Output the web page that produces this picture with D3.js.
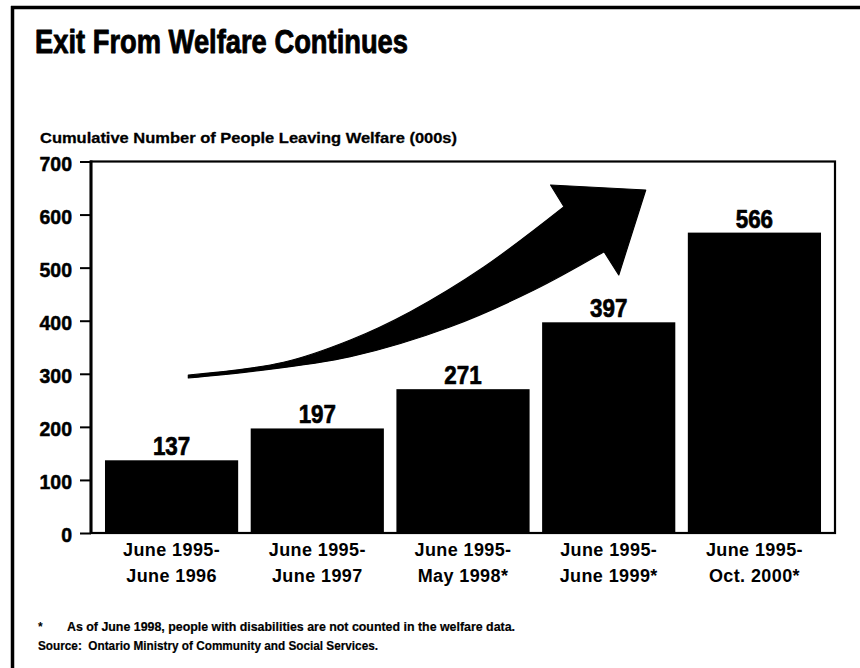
<!DOCTYPE html>
<html>
<head>
<meta charset="utf-8">
<script src="https://cdn.jsdelivr.net/npm/d3@7"></script>
<style>
  html, body { margin: 0; padding: 0; background: #fff; }
  svg { display: block; }
  .bold { font-family: "Liberation Sans", Arial, Helvetica, sans-serif; font-weight: bold; }
</style>
</head>
<body>
<svg id="chart" width="860" height="668"></svg>
<script>
// Chart data
const categories = ["June 1995-\nJune 1996", "June 1995-\nJune 1997", "June 1995-\nMay 1998*", "June 1995-\nJune 1999*", "June 1995-\nOct. 2000*"];
const values = [137, 197, 271, 397, 566];
const yTicks = [0, 100, 200, 300, 400, 500, 600, 700];

// Growth arrow outline, in (category index, value) units
const arrowUpper = [[0.115, 297.7], [0.768, 321.7], [1.227, 363.7], [1.639, 417.0], [2.143, 501.2], [2.693, 614.8]];
const arrowHead = [[2.601, 655.7], [3.254, 646.3], [3.069, 486.2], [2.968, 530.1]];
const arrowLower = [[2.968, 530.1], [2.487, 457.9], [1.914, 388.7], [1.227, 332.2], [0.540, 303.9], [0.115, 292.1]];

const svg = d3.select("#chart");
const W = 860, H = 668;
const plot = { left: 91, right: 835, top: 161.5, bottom: 533 };

// Condense bold text horizontally, either to a ratio of its natural width or to a fixed width
function condense(sel, ratio) {
  sel.each(function () {
    const w = this.getComputedTextLength();
    d3.select(this).attr("textLength", w * ratio).attr("lengthAdjust", "spacingAndGlyphs");
  });
}
function fitTo(sel, width) {
  sel.attr("textLength", width).attr("lengthAdjust", "spacingAndGlyphs");
}
// Thicken glyphs slightly for a heavier face
function heavy(sel, w) {
  sel.attr("stroke", "#000").attr("stroke-width", w).attr("stroke-linejoin", "round");
}

// Page frame: heavy rule along the top and left edges
svg.append("line").attr("x1", 11).attr("x2", W).attr("y1", 7.5).attr("y2", 7.5)
  .attr("stroke", "#000").attr("stroke-width", 3.5);
svg.append("line").attr("x1", 12.5).attr("x2", 12.5).attr("y1", 6).attr("y2", H)
  .attr("stroke", "#000").attr("stroke-width", 3.5);

// Title and subtitle
svg.append("text").attr("class", "bold").attr("x", 35).attr("y", 53)
  .attr("font-size", 33.5).text("Exit From Welfare Continues")
  .call(fitTo, 373).call(heavy, 0.9);
svg.append("text").attr("class", "bold").attr("x", 40).attr("y", 143)
  .attr("font-size", 15.4).text("Cumulative Number of People Leaving Welfare (000s)")
  .call(fitTo, 417).call(heavy, 0.3);

// Scales
const x = d3.scaleBand().domain(categories).range([plot.left, plot.right])
  .paddingInner(0.086).paddingOuter(0.096);
const y = d3.scaleLinear().domain([0, 700]).range([plot.bottom, plot.top]);
const xIdx = i => x(categories[0]) + x.bandwidth() / 2 + i * x.step();

// Y axis
const yAxis = svg.append("g").attr("transform", `translate(${plot.left},0)`)
  .call(d3.axisLeft(y).tickValues(yTicks).tickSize(11).tickPadding(8));
yAxis.attr("font-family", null).attr("font-size", null);
yAxis.select(".domain").remove();
yAxis.selectAll(".tick line").attr("stroke", "#000").attr("stroke-width", 2);
yAxis.selectAll(".tick text").attr("class", "bold").attr("font-size", 20.5)
  .attr("fill", "#000").attr("dy", "0.43em").call(condense, 0.95).call(heavy, 0.5);

// Bars
svg.append("g").selectAll("rect").data(values).join("rect")
  .attr("x", (d, i) => x(categories[i]))
  .attr("y", d => y(d))
  .attr("width", x.bandwidth())
  .attr("height", d => y(0) - y(d))
  .attr("fill", "#000");

// Value labels
svg.append("g").selectAll("text").data(values).join("text")
  .attr("class", "bold")
  .attr("x", (d, i) => x(categories[i]) + x.bandwidth() / 2)
  .attr("y", d => y(d) - 5)
  .attr("text-anchor", "middle").attr("font-size", 26)
  .text(d => d)
  .call(condense, 0.86).call(heavy, 0.7);

// Plot frame
svg.append("rect").attr("x", plot.left).attr("y", plot.top)
  .attr("width", plot.right - plot.left).attr("height", plot.bottom - plot.top)
  .attr("fill", "none").attr("stroke", "#000").attr("stroke-width", 2.2);
svg.append("line").attr("x1", plot.left).attr("x2", plot.left)
  .attr("y1", plot.top - 1).attr("y2", plot.bottom + 1)
  .attr("stroke", "#000").attr("stroke-width", 3);

// Category labels (two lines each)
const catG = svg.append("g").selectAll("text").data(categories).join("text")
  .attr("class", "bold").attr("font-size", 18).attr("letter-spacing", 0.4)
  .attr("text-anchor", "middle")
  .attr("x", d => x(d) + x.bandwidth() / 2)
  .attr("y", 556);
catG.selectAll("tspan").data(d => d.split("\n")).join("tspan")
  .attr("x", function () { return d3.select(this.parentNode).attr("x"); })
  .attr("dy", (d, i) => i === 0 ? 0 : 26)
  .text(d => d);

// Growth arrow
const line = d3.line().x(p => xIdx(p[0])).y(p => y(p[1])).curve(d3.curveCatmullRom);
const headStr = arrowHead.map(p => `L${xIdx(p[0])},${y(p[1])}`).join("");
const arrowPath = line(arrowUpper) + headStr + line(arrowLower).replace(/^M/, "L") + "Z";
svg.append("path").attr("d", arrowPath).attr("fill", "#000")
  .attr("stroke", "#000").attr("stroke-width", 1.2).attr("stroke-linejoin", "round");

// Footnotes
svg.append("text").attr("class", "bold").attr("x", 38).attr("y", 631)
  .attr("font-size", 12).text("*");
svg.append("text").attr("class", "bold").attr("x", 67).attr("y", 631)
  .attr("font-size", 12).text("As of June 1998, people with disabilities are not counted in the welfare data.")
  .call(fitTo, 448).call(heavy, 0.2);
svg.append("text").attr("class", "bold").attr("x", 38).attr("y", 650)
  .attr("font-size", 12).attr("xml:space", "preserve")
  .text("Source:  Ontario Ministry of Community and Social Services.")
  .call(fitTo, 340).call(heavy, 0.2);
</script>
</body>
</html>
